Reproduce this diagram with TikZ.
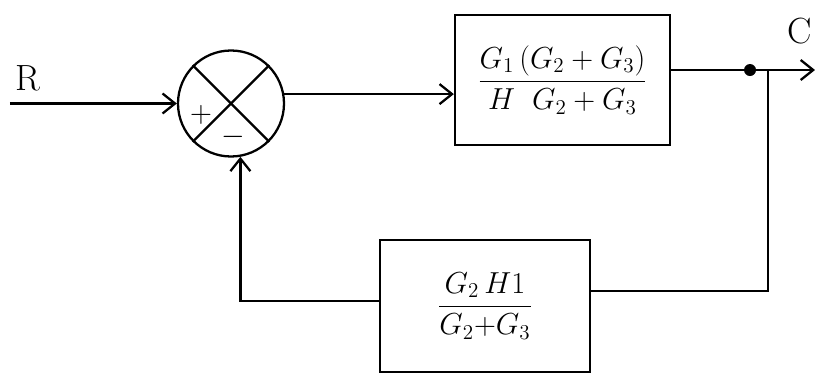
\documentclass[tikz,border=0pt]{standalone}
\usepackage{amsmath}
\usetikzlibrary{arrows.meta,positioning,calc}
\tikzset{
  blk/.style={draw, line width=1.3pt, align=center, font=\LARGE, inner sep=4pt},
  sumj/.style={draw, circle, line width=1.3pt, minimum size=21.2mm, inner sep=0pt},
  sig/.style={line width=1.3pt},
  arr/.style={sig, -{Straight Barb[length=2.5mm,width=4mm]}},
  lbl/.style={font=\huge}}
\begin{document}
\begin{tikzpicture}
  \useasboundingbox (0,0) rectangle (16.3,7.52);
  % summing junction
  \node[sumj] (sum) at (4.62,5.45) {};
  \draw[sig] (sum.135) -- (sum.-45);
  \draw[sig] (sum.45) -- (sum.-135);
  \node[font=\LARGE] (plus) at ($(sum.center)+(-0.6,-0.22)$) {$+$};
  \node[font=\LARGE] (minus) at ($(sum.center)+(0.05,-0.66)$) {$-$};
  % blocks
  \node[blk, minimum width=43mm, minimum height=26mm] (fwd) at (11.25,5.92)
    {$\dfrac{G_1\,(G_2+G_3)}{H\;\;G_2+G_3}$};
  \node[blk, minimum width=42mm, minimum height=26.4mm] (fbk) at (9.7,1.4)
    {$\dfrac{G_2\,H1}{G_2{+}G_3}$};
  % signals
  \coordinate (in) at (0.2,5.45);
  \coordinate (out) at (16.3,6.12);
  \node[circle, fill, inner sep=0pt, minimum size=2.4mm] (tap) at (15.0,6.12) {};
  \node[lbl] (r) at (0.55,5.95) {R};
  \node[lbl] (c) at (16.0,6.9) {C};
  \draw[arr] (in) -- (sum.west);
  \draw[arr] (sum.10) -- (sum.10 -| fwd.west);
  \draw[sig] (tap -| fwd.east) -- (tap);
  \draw[arr] (tap) -- (out);
  \draw[sig] (tap) -- ++(0.36,0) |- ([yshift=3mm]fbk.east);
  \draw[arr] ([yshift=1mm]fbk.west) -| (sum.-80);
\end{tikzpicture}
\end{document}
